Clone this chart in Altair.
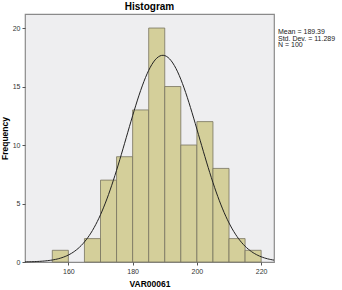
import altair as alt
import pandas as pd

bin_start = [155, 160, 165, 170, 175, 180, 185, 190, 195, 200, 205, 210, 215]
counts = [1, 0, 2, 7, 9, 13, 20, 15, 10, 12, 8, 2, 1]
bin_width = 5
mean = 189.39
sd = 11.289
n = 100
x_ticks = [160, 180, 200, 220]
y_ticks = [0, 5, 10, 15, 20]
stats_lines = ["Mean = 189.39", "Std. Dev. = 11.289", "N = 100"]

bars_df = pd.DataFrame({"start": bin_start, "count": counts})
bars_df["end"] = bars_df["start"] + bin_width
bars_df = bars_df[bars_df["count"] > 0]

xdom = [146.5, 224]
ydom = [0, 21.2]

xs = alt.Scale(domain=xdom, nice=False, zero=False)
ys = alt.Scale(domain=ydom, nice=False)

axis_common = dict(labelFontSize=7, labelColor="#333333", tickColor="#555555",
                   domain=False, grid=False, tickSize=3, titleFontSize=8.5,
                   titleFontWeight="bold", titleColor="#000000", labelFont="Arial",
                   titleFont="Arial", labelPadding=2)

bars = alt.Chart(bars_df).mark_rect(fill="#D4CF9A", stroke="#77735F", strokeWidth=0.8).encode(
    x=alt.X("start:Q", scale=xs,
            axis=alt.Axis(values=x_ticks, title="VAR00061", titlePadding=5, **axis_common)),
    x2="end:Q",
    y=alt.Y("count:Q", scale=ys,
            axis=alt.Axis(values=y_ticks, title="Frequency", titlePadding=3, **axis_common)),
    y2=alt.datum(0),
)

curve = alt.Chart(alt.sequence(146.5, 224.01, 0.5, as_="x")).transform_calculate(
    count=f"{n}*{bin_width}/({sd}*sqrt(2*PI))*exp(-0.5*pow((datum.x-{mean})/{sd},2))"
).mark_line(color="#222222", strokeWidth=1).encode(
    x=alt.X("x:Q", scale=xs),
    y=alt.Y("count:Q", scale=ys),
)

stats_df = pd.DataFrame({"t": ["\n".join(stats_lines)]})
stats = alt.Chart(stats_df).mark_text(align="left", baseline="top", fontSize=7, lineHeight=6.5,
                                      font="Arial", color="#222222", lineBreak="\n").encode(
    text="t:N",
    x=alt.value(253),
    y=alt.value(14),
)

chart = alt.layer(bars, curve, stats).properties(
    width=249, height=248,
    title=alt.TitleParams("Histogram", fontSize=10, fontWeight="bold", font="Arial",
                          anchor="middle", offset=2, color="#000000"),
    padding={"left": 25, "top": 14, "right": 68, "bottom": 28},
    autosize=alt.AutoSizeParams(type="none"),
).configure_view(fill="#EEEEF0", stroke="#8A8A8A", strokeWidth=1.2)

chart.save("out.html", embed_options={"renderer": "svg", "actions": False})
